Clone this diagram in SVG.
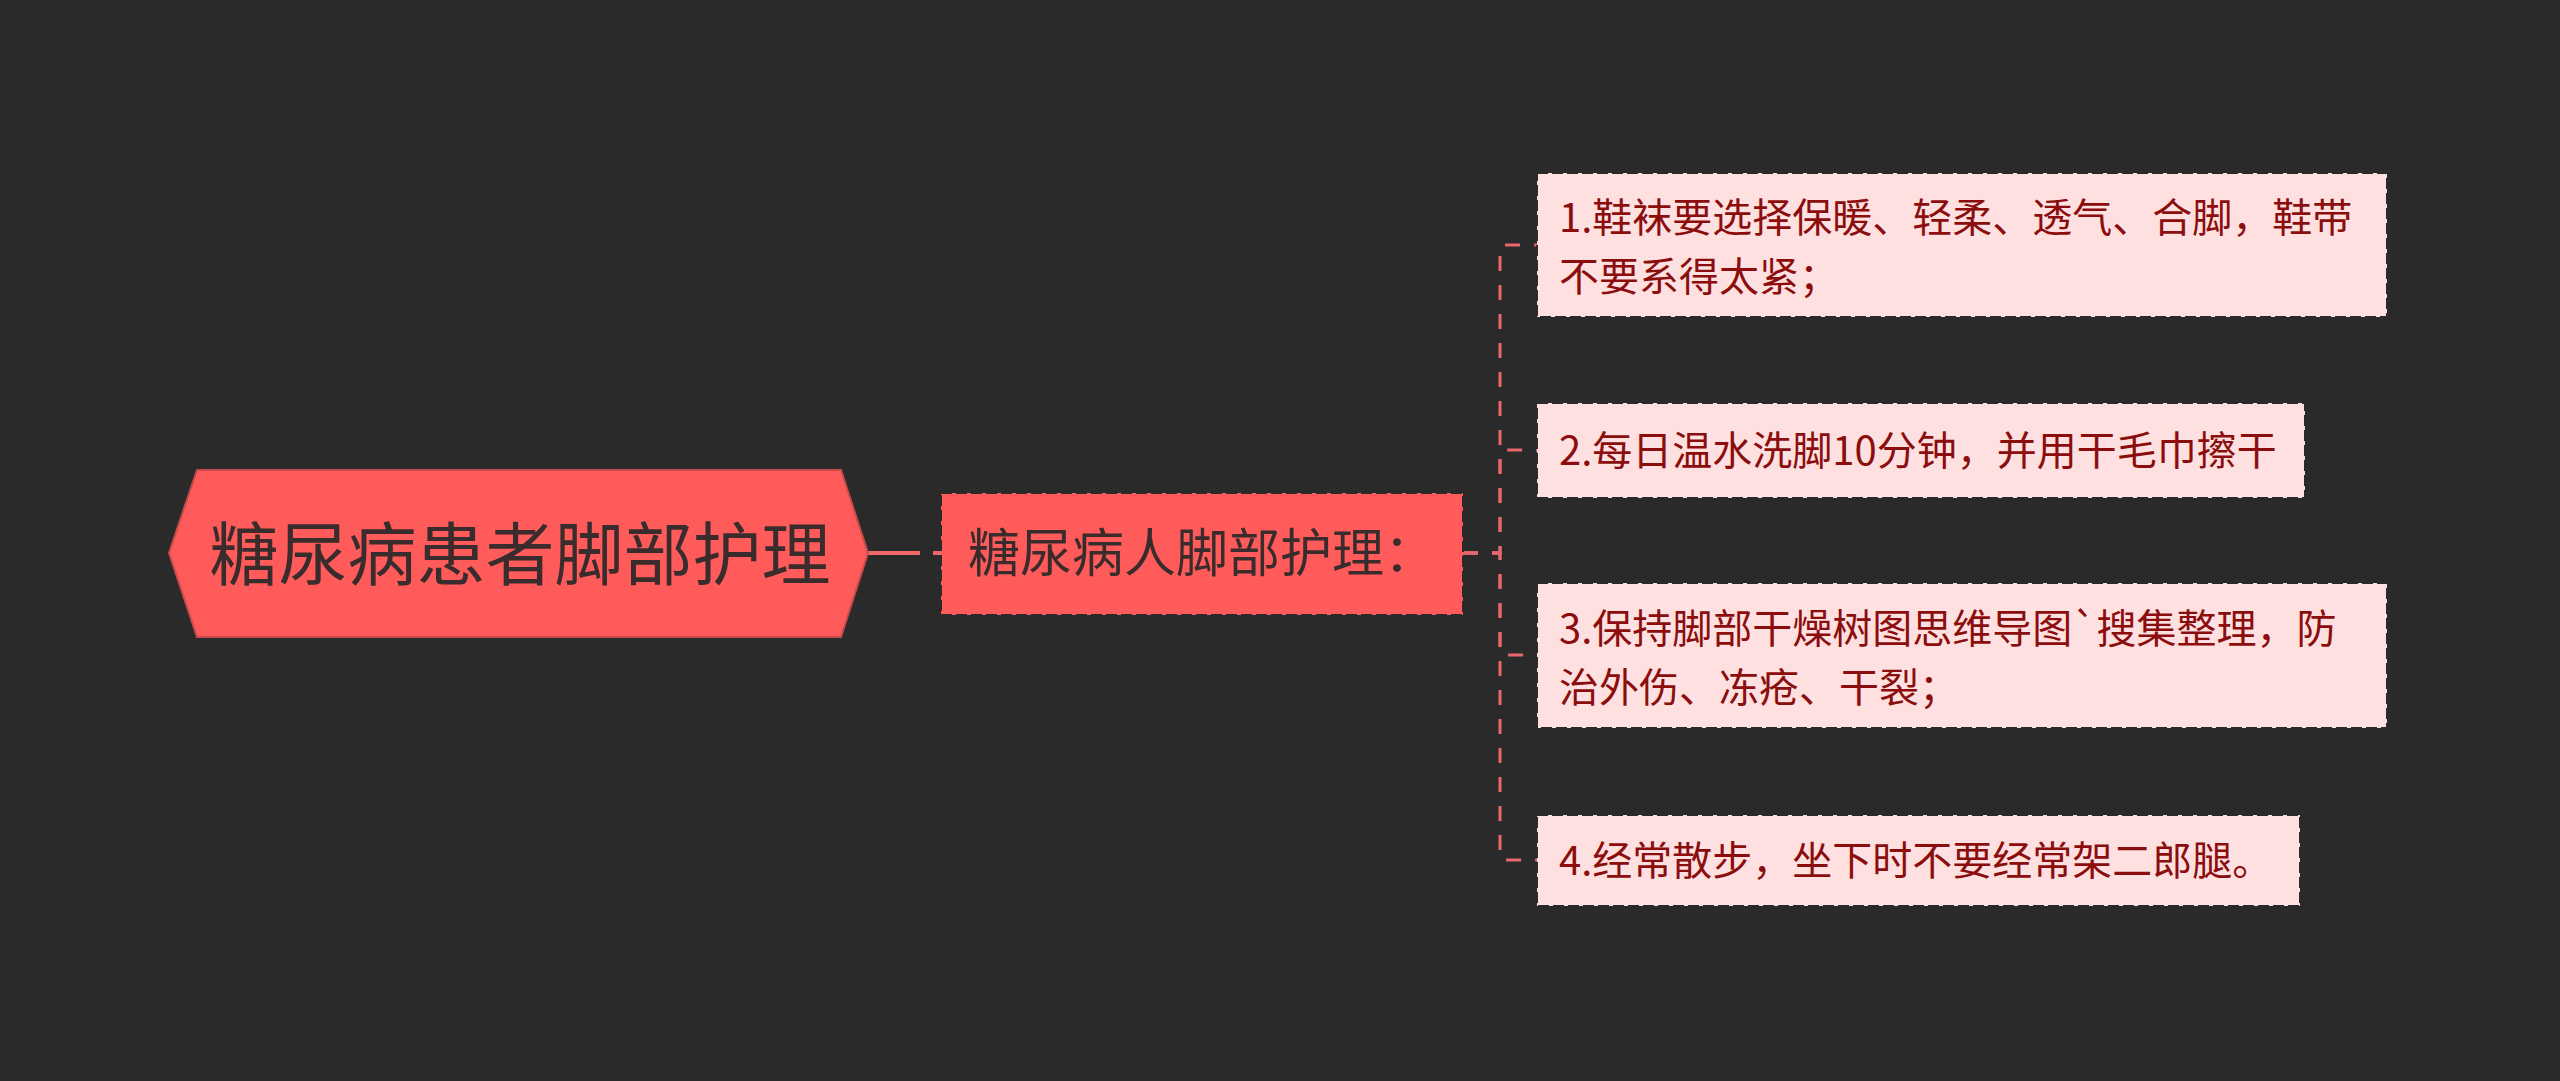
<svg xmlns="http://www.w3.org/2000/svg" width="2560" height="1081" viewBox="0 0 2560 1081">
<style>
.cjk{font-family:"Noto Sans CJK SC","Noto Sans",sans-serif;}
.rootText{font-size:69px;fill:#3a2c2c;}
.subText{font-size:52px;fill:#3a2c2c;}
.leafText{font-size:40px;fill:#8b0d0d;}
.leafBox{fill:#ffe0e0;stroke:#2a2a2a;stroke-width:2;stroke-dasharray:11 4;}
.subBox{fill:#ff5b5b;stroke:#2a2a2a;stroke-width:2;stroke-dasharray:11 4;}
.conn{fill:none;stroke:#e8676b;stroke-width:3;stroke-dasharray:15 14;}
</style>
<rect x="0" y="0" width="2560" height="1081" fill="#2a2a2a"/>

<g id="connectors">
  <line x1="866" y1="553" x2="941" y2="553" stroke="#f0686a" stroke-width="4" stroke-dasharray="54 13 20"/>
  <path class="conn" d="M1463,553 H1500 V250 Q1500,245 1505,245 H1537"/>
  <path class="conn" d="M1463,553 H1500 V455 Q1500,450 1505,450 H1537"/>
  <path class="conn" d="M1463,553 H1500 V650 Q1500,655 1505,655 H1537"/>
  <path class="conn" d="M1463,553 H1500 V855 Q1500,860 1505,860 H1537"/>
</g>

<g id="root">
  <polygon points="169,553 197,470 841,470 868,553 841,637 197,637" fill="#ff5b5b" stroke="#c84a4a" stroke-width="2"/>
  <text class="cjk rootText" x="520" y="580" text-anchor="middle">糖尿病患者脚部护理</text>
</g>

<g id="sub">
  <rect class="subBox" x="941" y="493" width="522" height="122"/>
  <text class="cjk subText" x="968" y="572">糖尿病人脚部护理：</text>
</g>

<g id="leaf1">
  <rect class="leafBox" x="1537" y="173" width="850" height="144"/>
  <text class="cjk leafText" x="1559" y="232">1.鞋袜要选择保暖、轻柔、透气、合脚，鞋带</text>
  <text class="cjk leafText" x="1559" y="291">不要系得太紧；</text>
</g>

<g id="leaf2">
  <rect class="leafBox" x="1537" y="403" width="768" height="95"/>
  <text class="cjk leafText" x="1559" y="465">2.每日温水洗脚10分钟，并用干毛巾擦干</text>
</g>

<g id="leaf3">
  <rect class="leafBox" x="1537" y="583" width="850" height="145"/>
  <text class="cjk leafText" x="1559" y="643">3.保持脚部干燥树图思维导图`搜集整理，防</text>
  <text class="cjk leafText" x="1559" y="702">治外伤、冻疮、干裂；</text>
</g>

<g id="leaf4">
  <rect class="leafBox" x="1537" y="815" width="763" height="91"/>
  <text class="cjk leafText" x="1559" y="875">4.经常散步，坐下时不要经常架二郎腿。</text>
</g>
</svg>
